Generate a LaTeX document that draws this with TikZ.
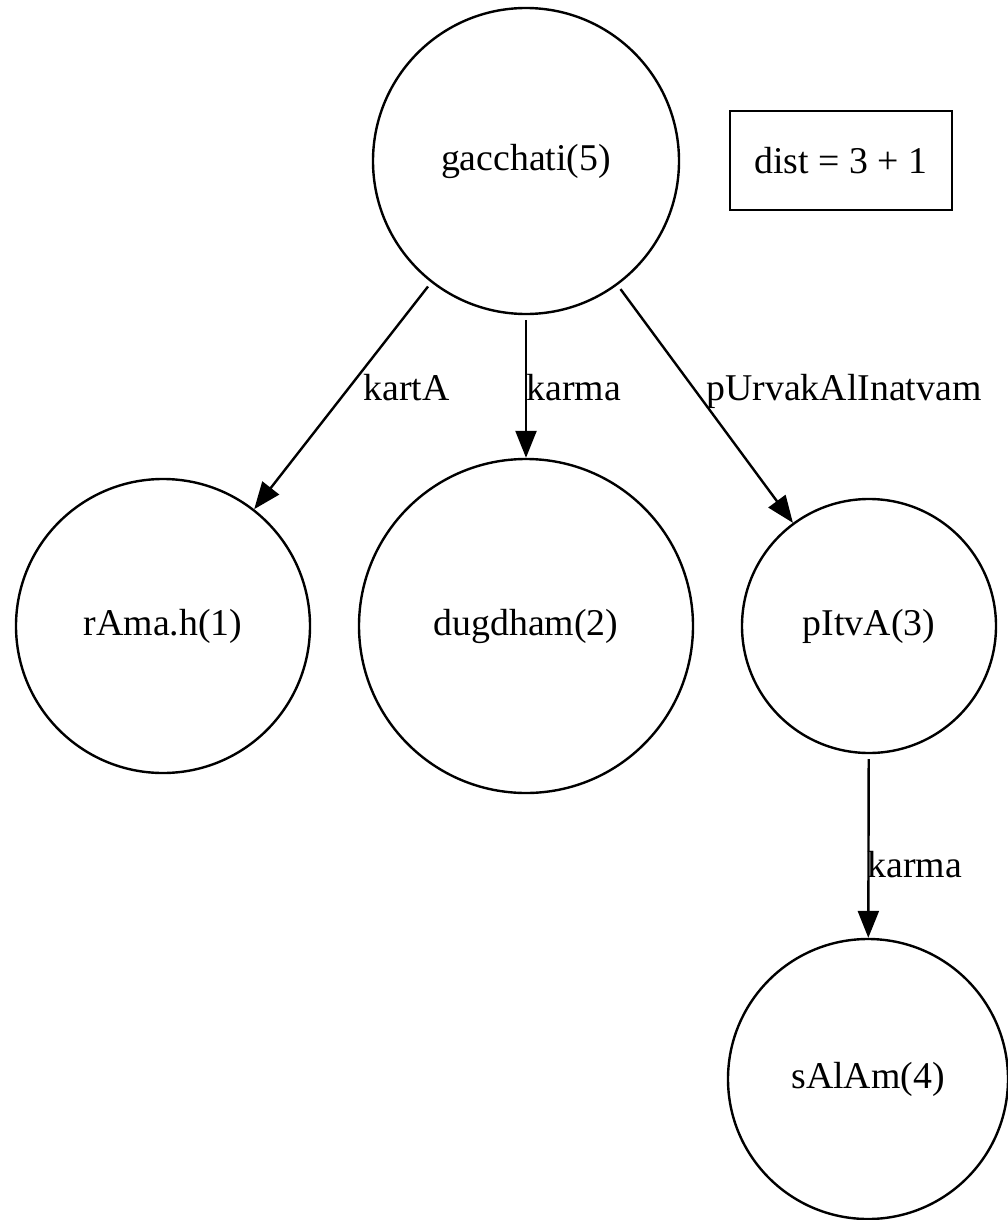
\documentclass[tikz,border=0pt]{standalone}
\usepackage{fontspec}
\setmainfont{Liberation Serif}
\usetikzlibrary{arrows.meta}

\begin{document}
\begin{tikzpicture}[
    x=0.5pt, y=-0.5pt,
    font=\fontsize{18.9}{22}\selectfont,
    >={Triangle[length=13.5pt, width=10.5pt]},
    word/.style={draw, circle, line width=1.2pt, minimum size=#1, inner sep=0pt},
    distbox/.style={draw, line width=1.2pt, minimum width=111pt, minimum height=49.5pt},
    lab/.style={anchor=base west, inner sep=0pt},
    rel/.style={->, line width=1.2pt, shorten <=2.5pt},
  ]
  \useasboundingbox (0,0) rectangle (1007,1220);
  % ---- words
  \node[word=153pt] (gac) at (526,161) {gacchati(5)};
  \node[distbox] (dist) at (841,160.5) {dist = 3 + 1};
  \node[word=147pt] (ram) at (163,626) {rAma.h(1)};
  \node[word=167pt] (dug) at (526,626) {dugdham(2)};
  \node[word=127pt] (pit) at (869,626) {pItvA(3)};
  \node[word=140pt] (sal) at (868,1079) {sAlAm(4)};
  % ---- relations
  \draw[rel] (gac) -- (ram);
  \draw[rel] (gac) -- (dug);
  \draw[rel] (gac) -- (pit);
  \draw[rel] (pit) -- (sal);
  % ---- relation labels
  \node[lab] (kar1) at (363,400) {kartA};
  \node[lab] (kar2) at (526,400) {karma};
  \node[lab] (pur) at (706,400) {pUrvakAlInatvam};
  \node[lab] (kar3) at (867,877) {karma};
\end{tikzpicture}
\end{document}
